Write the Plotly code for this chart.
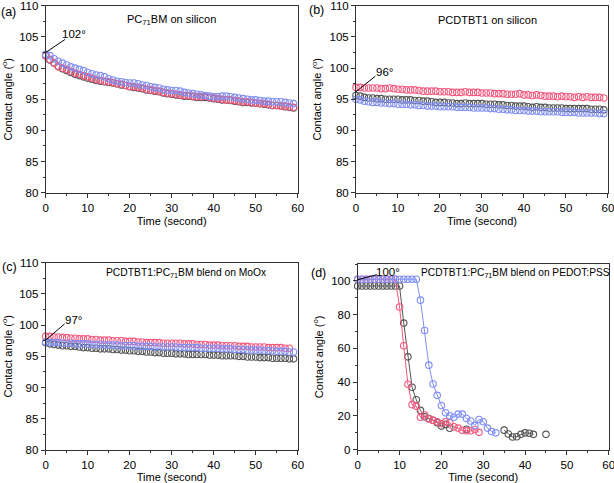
import plotly.graph_objects as go
from plotly.subplots import make_subplots

# time axis (seconds)
time_s = list(range(60))

# (a) PC71BM on silicon
a_black = [102.0, 101.3, 100.8, 100.3, 99.9, 99.6, 99.3, 99.0, 98.8, 98.6,
           98.4, 98.2, 98.0, 97.9, 97.8, 97.7, 97.6, 97.5, 97.3, 97.2,
           97.0, 96.9, 96.8, 96.7, 96.5, 96.4, 96.3, 96.2, 96.0, 95.9,
           95.8, 95.7, 95.6, 95.5, 95.5, 95.4, 95.3, 95.3, 95.3, 95.2,
           95.1, 95.0, 94.9, 94.9, 94.8, 94.7, 94.6, 94.5, 94.5, 94.4,
           94.4, 94.3, 94.2, 94.1, 94.0, 94.0, 93.9, 93.8, 93.7, 93.6]
a_red = [102.0, 101.4, 100.8, 100.2, 100.0, 99.8, 99.5, 99.2, 99.0, 98.8,
         98.6, 98.4, 98.2, 98.0, 97.9, 97.8, 97.7, 97.5, 97.4, 97.2,
         97.1, 97.0, 96.9, 96.8, 96.6, 96.5, 96.4, 96.3, 96.1, 96.0,
         95.9, 95.8, 95.7, 95.6, 95.6, 95.5, 95.4, 95.4, 95.5, 95.3,
         95.2, 95.1, 95.0, 94.9, 94.9, 94.8, 94.7, 94.6, 94.6, 94.5,
         94.4, 94.3, 94.3, 94.2, 94.0, 94.0, 93.9, 93.9, 93.8, 93.7]
a_blue = [102.2, 102.0, 101.5, 101.1, 100.8, 100.5, 100.2, 100.0, 99.8, 99.6,
          99.3, 99.1, 98.9, 98.8, 98.6, 98.3, 98.1, 97.9, 97.8, 97.7,
          97.6, 97.6, 97.5, 97.3, 97.2, 97.0, 96.9, 96.8, 96.6, 96.5,
          96.4, 96.4, 96.3, 96.1, 96.0, 95.9, 95.8, 95.7, 95.6, 95.5,
          95.4, 95.4, 95.5, 95.5, 95.4, 95.3, 95.2, 95.1, 95.0, 94.9,
          94.9, 94.8, 94.7, 94.7, 94.6, 94.6, 94.6, 94.5, 94.4, 94.3]

# (b) PCDTBT1 on silicon
b_black = [95.6, 95.5, 95.3, 95.2, 95.2, 95.1, 95.1, 95.0, 95.0, 95.0,
           95.0, 94.9, 94.9, 94.9, 94.8, 94.8, 94.7, 94.7, 94.6, 94.5,
           94.5, 94.5, 94.4, 94.4, 94.3, 94.3, 94.4, 94.3, 94.3, 94.3,
           94.3, 94.2, 94.2, 94.2, 94.1, 94.1, 94.0, 94.0, 93.9, 93.9,
           93.9, 93.8, 93.7, 93.8, 93.7, 93.7, 93.6, 93.6, 93.6, 93.6,
           93.5, 93.5, 93.5, 93.5, 93.5, 93.5, 93.4, 93.4, 93.4, 93.3]
b_red = [96.9, 96.9, 96.8, 96.8, 96.8, 96.8, 96.7, 96.7, 96.8, 96.7,
         96.6, 96.6, 96.5, 96.5, 96.5, 96.4, 96.3, 96.3, 96.3, 96.3,
         96.2, 96.2, 96.2, 96.1, 96.1, 96.1, 96.2, 96.1, 96.1, 96.1,
         96.0, 96.0, 96.0, 95.9, 95.9, 95.9, 95.8, 95.8, 95.8, 95.9,
         95.7, 95.7, 95.6, 95.7, 95.6, 95.5, 95.5, 95.5, 95.4, 95.5,
         95.4, 95.4, 95.3, 95.4, 95.3, 95.4, 95.3, 95.3, 95.3, 95.2]
b_blue = [95.0, 94.9, 94.7, 94.6, 94.5, 94.5, 94.4, 94.4, 94.3, 94.3,
          94.2, 94.2, 94.2, 94.1, 94.1, 94.0, 94.0, 93.9, 93.9, 93.9,
          93.8, 93.8, 93.8, 93.8, 93.7, 93.7, 93.7, 93.7, 93.6, 93.6,
          93.6, 93.6, 93.5, 93.5, 93.4, 93.4, 93.3, 93.3, 93.2, 93.2,
          93.2, 93.1, 93.1, 93.1, 93.0, 93.0, 93.0, 93.0, 93.0, 92.9,
          92.9, 92.9, 92.9, 92.8, 92.8, 92.8, 92.8, 92.8, 92.7, 92.7]

# (c) PCDTBT1:PC71BM blend on MoOx
c_black = [97.2, 97.0, 96.9, 96.8, 96.7, 96.7, 96.6, 96.6, 96.5, 96.4,
           96.4, 96.3, 96.3, 96.2, 96.2, 96.2, 96.1, 96.1, 96.0, 96.0,
           95.9, 95.9, 95.8, 95.8, 95.7, 95.7, 95.6, 95.6, 95.5, 95.5,
           95.5, 95.4, 95.4, 95.4, 95.3, 95.3, 95.3, 95.3, 95.3, 95.2,
           95.2, 95.2, 95.1, 95.1, 95.1, 95.1, 95.0, 95.0, 94.9, 94.9,
           94.9, 94.8, 94.8, 94.8, 94.7, 94.7, 94.7, 94.7, 94.6, 94.6]
c_red = [98.2, 98.2, 98.1, 98.1, 98.0, 98.0, 97.9, 97.9, 97.8, 97.8,
         97.8, 97.7, 97.7, 97.6, 97.6, 97.6, 97.5, 97.5, 97.5, 97.4,
         97.4, 97.4, 97.3, 97.3, 97.2, 97.2, 97.2, 97.2, 97.1, 97.1,
         97.1, 97.1, 97.1, 97.0, 97.0, 97.0, 96.9, 96.9, 96.9, 96.8,
         96.8, 96.8, 96.7, 96.7, 96.7, 96.7, 96.6, 96.6, 96.6, 96.5,
         96.5, 96.5, 96.5, 96.4, 96.4, 96.4, 96.4, 96.3, 96.3]
c_blue = [97.3, 97.2, 97.2, 97.2, 97.1, 97.1, 97.1, 97.0, 97.0, 97.0,
          97.0, 96.9, 96.9, 96.9, 96.8, 96.8, 96.8, 96.8, 96.7, 96.7,
          96.7, 96.7, 96.6, 96.6, 96.6, 96.6, 96.5, 96.5, 96.5, 96.5,
          96.5, 96.5, 96.4, 96.4, 96.4, 96.4, 96.4, 96.3, 96.3, 96.3,
          96.3, 96.3, 96.2, 96.2, 96.2, 96.1, 96.1, 96.1, 96.0, 96.0,
          96.0, 96.0, 95.9, 95.9, 95.9, 95.8, 95.8, 95.8, 95.7, 95.7]

# (d) PCDTBT1:PC71BM blend on PEDOT:PSS (None = no reading)
d_black = [97.0, 97.0, 97.0, 97.0, 97.0, 97.0, 97.0, 97.0, 97.0, 97.0,
           97.0, 75.0, 55.0, 37.0, 29.6, 23.3, 19.5, 18.5, 17.5, 16.0,
           14.0, 15.0, 12.7, None, None, None, 12.1, None, None, None,
           None, None, None, None, None, 11.6, 9.3, 7.5, 7.7, 9.1,
           10.0, 9.8, 9.1, None, None, 9.1]
d_red = [101.0, 101.0, 101.0, 101.0, 101.0, 101.0, 101.0, 101.0, 101.0, 101.0,
         84.5, 61.6, 38.8, 26.7, 25.8, 19.2, 20.6, 18.2, 17.5, 16.5,
         15.4, 16.6, 16.0, 13.6, 12.8, 11.5, 11.2, 11.2, 12.0, 10.3]
d_blue = [101.0, 101.0, 101.0, 101.0, 101.0, 101.0, 101.0, 101.0, 101.0, 101.0,
          101.0, 101.0, 101.0, 101.0, 101.0, 88.6, 70.6, 50.1, 38.9, 32.2,
          26.2, 21.9, 20.1, 19.2, 21.1, 21.1, 18.5, 17.0, 14.4, 17.9,
          16.6, 12.8, 10.8, 10.0]

titles = ["PC<sub>71</sub>BM on silicon", "PCDTBT1 on silicon",
          "PCDTBT1:PC<sub>71</sub>BM blend on MoOx",
          "PCDTBT1:PC<sub>71</sub>BM blend on PEDOT:PSS"]
initial_angles = ["102°", "96°", "97°", "100°"]
panel_letters = ["(a)", "(b)", "(c)", "(d)"]

BLACK = "#555555"
RED = "#f5587e"
BLUE = "#7f8ef5"
AXIS = "#333333"
FONT = "Liberation Sans, Arial, sans-serif"

fig = make_subplots(rows=2, cols=2)

panels = [
    (1, 1, [(a_black, BLACK), (a_red, RED), (a_blue, BLUE)], "markers"),
    (1, 2, [(b_black, BLACK), (b_red, RED), (b_blue, BLUE)], "markers"),
    (2, 1, [(c_black, BLACK), (c_red, RED), (c_blue, BLUE)], "markers"),
    (2, 2, [(d_black, BLACK), (d_red, RED), (d_blue, BLUE)], "lines+markers"),
]

for row, col, series, mode in panels:
    for ys, color in series:
        fig.add_trace(go.Scatter(
            x=time_s[:len(ys)], y=ys, mode=mode, cliponaxis=False,
            connectgaps=False, showlegend=False, hoverinfo="skip",
            line=dict(color=color, width=1),
            marker=dict(symbol="circle-open", size=6.5, color=color,
                        line=dict(width=1.1, color=color))),
            row=row, col=col)

# panel placement (paper fractions of the 614x483 page)
x_domains = [[0.0744, 0.4849], [0.5798, 0.9902], [0.0744, 0.4849], [0.5826, 0.9914]]
y_domains = [[0.601, 0.988], [0.601, 0.988], [0.0683, 0.4561], [0.0689, 0.4534]]

for i in range(4):
    row, col = i // 2 + 1, i % 2 + 1
    is_d = i == 3
    fig.update_xaxes(
        domain=x_domains[i], range=[0, 60], dtick=10, automargin=False,
        ticks="outside", ticklen=4, tickwidth=1, tickcolor=AXIS,
        tickfont=dict(size=11.5), ticklabeloverflow="allow",
        minor=dict(ticks="outside", dtick=5, ticklen=2, tickcolor=AXIS),
        showline=True, linecolor=AXIS, linewidth=1, mirror=True,
        showgrid=False, zeroline=False,
        title=dict(text="Time (second)", standoff=4, font=dict(size=11)),
        row=row, col=col)
    fig.update_yaxes(
        domain=y_domains[i], range=[0, 110] if is_d else [80, 110],
        dtick=20 if is_d else 5, automargin=False,
        ticks="outside", ticklen=4, tickwidth=1, tickcolor=AXIS,
        tickfont=dict(size=11.5), ticklabeloverflow="allow",
        minor=dict(ticks="outside", dtick=10 if is_d else 2.5, ticklen=2, tickcolor=AXIS),
        showline=True, linecolor=AXIS, linewidth=1, mirror=True,
        showgrid=False, zeroline=False,
        title=dict(text="Contact angle (<sup>o</sup>)", standoff=5, font=dict(size=11)),
        row=row, col=col)

# in-plot titles, initial-angle callouts and panel letters
title_pos = [(30, 107.8, 11), (31.3, 107.8, 11), (33.6, 108.3, 10.3), (37.7, 104.3, 10.2)]
callout_lines = [((0, 102.5), (4.6, 104.6)), ((0, 96.2), (4.6, 98.7)),
                 ((0, 97.6), (4.5, 100.2)), ((0, 100.7), (4.6, 103.7))]
callout_text = [(6.8, 105.4), (6.9, 99.4), (6.7, 100.9), (7.2, 105.2)]
letter_pos = [(8, 12), (316, 10), (9, 266.7), (318, 273)]

for i in range(4):
    xr = "x" if i == 0 else f"x{i + 1}"
    yr = "y" if i == 0 else f"y{i + 1}"
    tx, ty, ts = title_pos[i]
    fig.add_annotation(x=tx, y=ty, xref=xr, yref=yr, text=titles[i],
                       showarrow=False, font=dict(size=ts))
    (x0, y0), (x1, y1) = callout_lines[i]
    fig.add_shape(type="line", x0=x0, y0=y0, x1=x1, y1=y1, xref=xr, yref=yr,
                  line=dict(color="black", width=1))
    cx, cy = callout_text[i]
    fig.add_annotation(x=cx, y=cy, xref=xr, yref=yr, text=initial_angles[i],
                       showarrow=False, font=dict(size=11.5))
    lx, ly = letter_pos[i]
    fig.add_annotation(x=lx / 614, y=1 - ly / 483, xref="paper", yref="paper",
                       xanchor="center", yanchor="middle",
                       text=panel_letters[i], showarrow=False, font=dict(size=12.5))

fig.update_layout(
    width=614, height=483,
    margin=dict(l=0, r=0, t=0, b=0),
    paper_bgcolor="white", plot_bgcolor="white",
    font=dict(family=FONT, size=11, color="black"),
)

# drop the browser's default 8px body margin so the figure sits at the page origin
fig.write_html("out.html", config={"displayModeBar": False},
               post_script="document.body.style.margin='0';")
